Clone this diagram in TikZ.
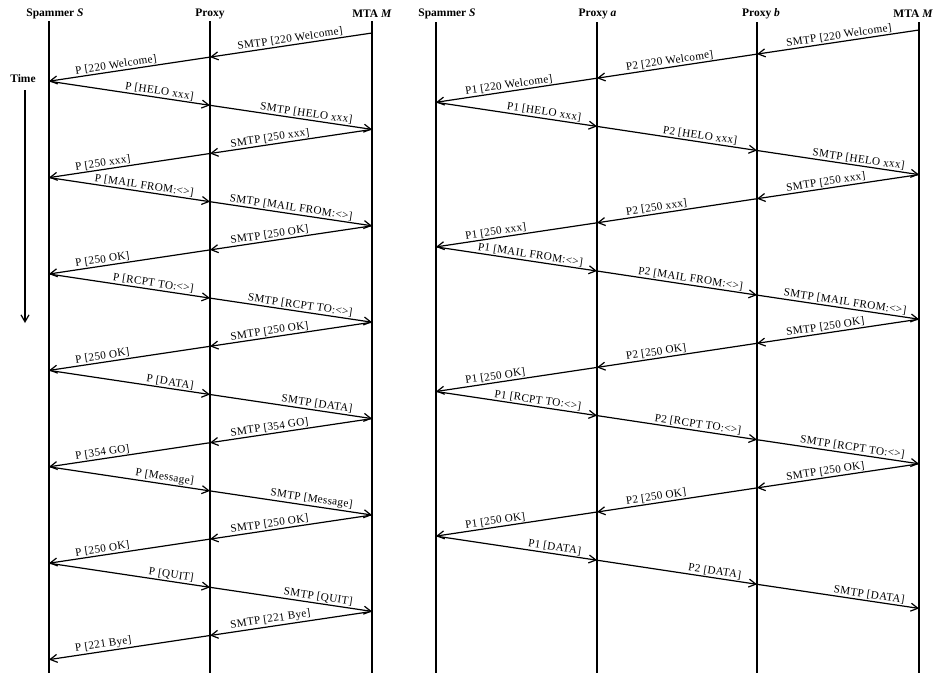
\documentclass[tikz,border=0pt]{standalone}
\usepackage{fontspec}
\setmainfont{Liberation Serif}
\newfontfamily\labfont[LetterSpace=3]{Liberation Serif}
\usetikzlibrary{arrows.meta}
\begin{document}
\begin{tikzpicture}[x=1pt,y=-1pt,
  life/.style={line width=1.2pt},
  msg/.style={line width=1.2pt,-{Straight Barb[length=7pt,width=8pt]}},
  lab/.style={font=\labfont\fontsize{11.2}{13}\selectfont, inner sep=1pt, sloped},
  ttl/.style={font=\bfseries\fontsize{11.5}{13}\selectfont, inner sep=0pt}]
\useasboundingbox (0,0) rectangle (934,673);
% ---------------- left diagram ----------------
\node[ttl] (tS) at (55,14) {Spammer \textit{S}};
\node[ttl] (tP) at (210,14) {Proxy};
\node[ttl] (tM) at (372,14) {MTA \textit{M}};
\coordinate (lS0) at (49,21);  \coordinate (lS1) at (49,673);
\coordinate (lP0) at (210,21); \coordinate (lP1) at (210,673);
\coordinate (lM0) at (372,21); \coordinate (lM1) at (372,673);
\draw[life] (lS0) -- (lS1);
\draw[life] (lP0) -- (lP1);
\draw[life] (lM0) -- (lM1);
\node[ttl] (time) at (23,79) {Time};
\coordinate (t0) at (25,90); \coordinate (t1) at (25,323);
\draw[msg] (t0) -- (t1);
\foreach \k in {0,...,26}{
  \pgfmathtruncatemacro\m{mod(\k,4)}
  \pgfmathsetmacro\xx{\m==0 ? 372 : (\m==2 ? 49 : 210)}
  \coordinate (L\k) at (\xx, 33+24.1*\k);
}
\foreach \k/\txt/\p/\an in {
 0/SMTP [220 Welcome]/0.834/south west,
 1/P [220 Welcome]/0.84/south west,
 2/P [HELO xxx]/0.902/south east,
 3/SMTP [HELO xxx]/0.883/south east,
 4/SMTP [250 xxx]/0.877/south west,
 5/P [250 xxx]/0.84/south west,
 6/P [MAIL FROM:<>]/0.902/south east,
 7/SMTP [MAIL FROM:<>]/0.883/south east,
 8/SMTP [250 OK]/0.877/south west,
 9/P [250 OK]/0.84/south west,
 10/P [RCPT TO:<>]/0.902/south east,
 11/SMTP [RCPT TO:<>]/0.883/south east,
 12/SMTP [250 OK]/0.877/south west,
 13/P [250 OK]/0.84/south west,
 14/P [DATA]/0.902/south east,
 15/SMTP [DATA]/0.883/south east,
 16/SMTP [354 GO]/0.877/south west,
 17/P [354 GO]/0.84/south west,
 18/P [Message]/0.902/south east,
 19/SMTP [Message]/0.883/south east,
 20/SMTP [250 OK]/0.877/south west,
 21/P [250 OK]/0.84/south west,
 22/P [QUIT]/0.902/south east,
 23/SMTP [QUIT]/0.883/south east,
 24/SMTP [221 Bye]/0.877/south west,
 25/P [221 Bye]/0.84/south west}{
  \pgfmathtruncatemacro\kk{\k+1}
  \draw[msg] (L\k) -- (L\kk) node[lab,pos=\p,anchor=\an] {\txt};
}
% ---------------- right diagram ----------------
\node[ttl] (uS) at (447,14) {Spammer \textit{S}};
\node[ttl] (uA) at (597.5,14) {Proxy \textit{a}};
\node[ttl] (uB) at (761,14) {Proxy \textit{b}};
\node[ttl,anchor=east] (uM) at (933,14) {MTA \textit{M}};
\coordinate (rS0) at (436,22); \coordinate (rS1) at (436,673);
\coordinate (rA0) at (597,22); \coordinate (rA1) at (597,673);
\coordinate (rB0) at (757,22); \coordinate (rB1) at (757,673);
\coordinate (rM0) at (919,22); \coordinate (rM1) at (919,673);
\draw[life] (rS0) -- (rS1);
\draw[life] (rA0) -- (rA1);
\draw[life] (rB0) -- (rB1);
\draw[life] (rM0) -- (rM1);
\foreach \k in {0,...,24}{
  \pgfmathtruncatemacro\m{mod(\k,6)}
  \pgfmathsetmacro\xx{\m==0 ? 919 : (\m==3 ? 436 : ((\m==1 || \m==5) ? 757 : 597))}
  \coordinate (R\k) at (\xx, 30+24.1*\k);
}
\foreach \k/\txt/\p/\an in {
 0/SMTP [220 Welcome]/0.822/south west,
 1/P2 [220 Welcome]/0.822/south west,
 2/P1 [220 Welcome]/0.822/south west,
 3/P1 [HELO xxx]/0.905/south east,
 4/P2 [HELO xxx]/0.88/south east,
 5/SMTP [HELO xxx]/0.915/south east,
 6/SMTP [250 xxx]/0.822/south west,
 7/P2 [250 xxx]/0.822/south west,
 8/P1 [250 xxx]/0.822/south west,
 9/P1 [MAIL FROM:<>]/0.915/south east,
 10/P2 [MAIL FROM:<>]/0.915/south east,
 11/SMTP [MAIL FROM:<>]/0.925/south east,
 12/SMTP [250 OK]/0.822/south west,
 13/P2 [250 OK]/0.822/south west,
 14/P1 [250 OK]/0.822/south west,
 15/P1 [RCPT TO:<>]/0.905/south east,
 16/P2 [RCPT TO:<>]/0.905/south east,
 17/SMTP [RCPT TO:<>]/0.915/south east,
 18/SMTP [250 OK]/0.822/south west,
 19/P2 [250 OK]/0.822/south west,
 20/P1 [250 OK]/0.822/south west,
 21/P1 [DATA]/0.905/south east,
 22/P2 [DATA]/0.905/south east,
 23/SMTP [DATA]/0.915/south east}{
  \pgfmathtruncatemacro\kk{\k+1}
  \draw[msg] (R\k) -- (R\kk) node[lab,pos=\p,anchor=\an] {\txt};
}
\end{tikzpicture}
\end{document}
